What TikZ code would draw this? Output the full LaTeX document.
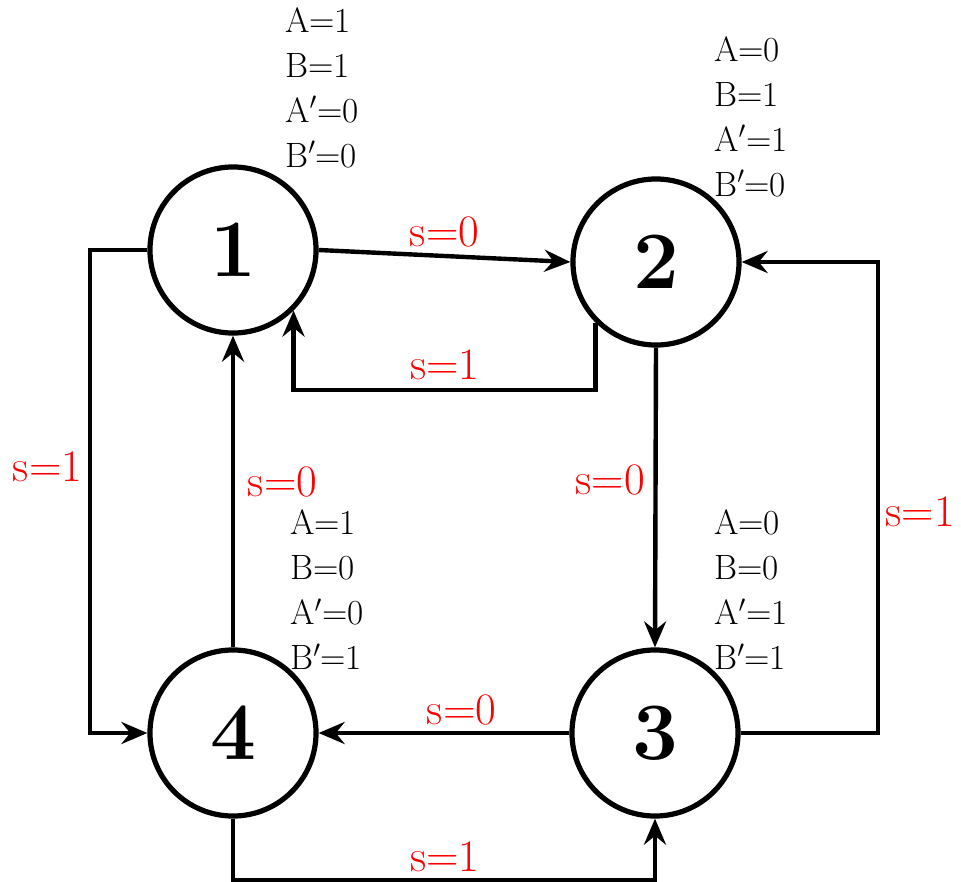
\documentclass[tikz,border=0pt]{standalone}
\usepackage{fontspec}
\usetikzlibrary{arrows.meta,positioning}
\definecolor{lblred}{HTML}{FF0000}

\begin{document}
\begin{tikzpicture}[x=0.025cm,y=-0.025cm,
  state/.style={circle,draw,line width=1.3mm,fill=white,minimum size=4.15cm,inner sep=0pt,font=\fontsize{58}{60}\selectfont\bfseries},
  info/.style={anchor=west,align=left,inner sep=0pt,font=\fontsize{25}{32}\selectfont},
  lab/.style={text=lblred,inner sep=2pt,font=\fontsize{32}{34}\selectfont},
  arr/.style={-{Stealth[length=6.5mm,width=5.5mm,inset=2.2mm]},line width=1.1mm}]
\useasboundingbox (0,0) rectangle (961,882);
\node[state] (n1) at (233,250) {1};
\node[state] (n2) at (656,262) {2};
\node[state] (n3) at (655,733) {3};
\node[state] (n4) at (233,733) {4};
\node[info] (i1) at (285,88) {A=1\\B=1\\A$'$=0\\B$'$=0};
\node[info] (i2) at (714,117) {A=0\\B=1\\A$'$=1\\B$'$=0};
\node[info] (i4) at (290,590) {A=1\\B=0\\A$'$=0\\B$'$=1};
\node[info] (i3) at (714,590) {A=0\\B=0\\A$'$=1\\B$'$=1};
\coordinate (top21) at (445,390);
\coordinate (lft) at (90,467);
\coordinate (rgt) at (878,512);
\coordinate (bot) at (445,880);
\draw[arr] (n1.east) -- node[lab,above=3pt]{s=0} (n2.west);
\draw[arr] (n2.225) |- (top21) node[lab,above=4pt]{s=1} -| (n1.315);
\draw[arr] (n1.west) -| (lft) node[lab,left=2pt]{s=1} |- (n4.west);
\draw[arr] (n4.north) -- node[lab,right=7pt,pos=0.53]{s=0} (n1.south);
\draw[arr] (n2.south) -- node[lab,left=4pt,pos=0.44]{s=0} (n3.north);
\draw[arr] (n3.east) -| (rgt) node[lab,right=2pt]{s=1} |- (n2.east);
\draw[arr] (n3.west) -- node[lab,above=2pt,pos=0.43]{s=0} (n4.east);
\draw[arr] (n4.south) |- (bot) node[lab,above=2pt]{s=1} -| (n3.south);
\end{tikzpicture}
\end{document}
